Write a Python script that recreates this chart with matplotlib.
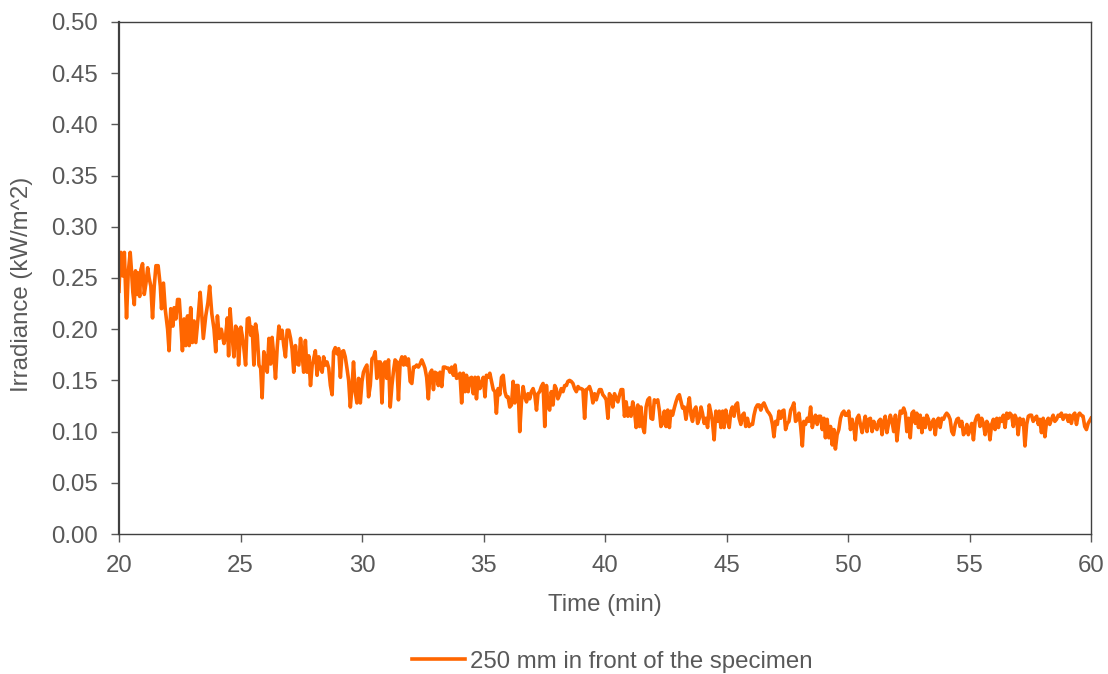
import matplotlib.pyplot as plt
from matplotlib.ticker import FormatStrFormatter

# irradiance log (kW/m^2) against time (min), in 5-minute blocks
t_20 = [20.00, 20.04, 20.08, 20.15, 20.22, 20.31, 20.38, 20.46, 20.52, 20.57,
        20.63, 20.68, 20.74, 20.79, 20.85, 20.90, 20.97, 21.04, 21.11, 21.18,
        21.24, 21.31, 21.38, 21.45, 21.52, 21.61, 21.70, 21.75, 21.83, 21.90,
        22.00, 22.06, 22.13, 22.22, 22.27, 22.34, 22.41, 22.48, 22.54, 22.61,
        22.68, 22.75, 22.82, 22.89, 22.95, 23.02, 23.09, 23.16, 23.25, 23.34,
        23.39, 23.47, 23.57, 23.66, 23.73, 23.82, 23.91, 23.98, 24.05, 24.13,
        24.21, 24.32, 24.39, 24.46, 24.51, 24.57, 24.64, 24.73, 24.80, 24.87,
        24.92, 25.01]
q_20 = [0.237, 0.265, 0.275, 0.252, 0.275, 0.211, 0.255, 0.275, 0.255, 0.236,
        0.224, 0.257, 0.234, 0.255, 0.232, 0.258, 0.264, 0.234, 0.245, 0.260,
        0.250, 0.242, 0.211, 0.242, 0.262, 0.262, 0.242, 0.220, 0.245, 0.220,
        0.200, 0.179, 0.220, 0.203, 0.221, 0.210, 0.229, 0.229, 0.207, 0.179,
        0.210, 0.184, 0.213, 0.184, 0.221, 0.187, 0.208, 0.187, 0.210, 0.236,
        0.220, 0.191, 0.213, 0.226, 0.242, 0.215, 0.200, 0.178, 0.213, 0.191,
        0.200, 0.186, 0.194, 0.211, 0.174, 0.220, 0.197, 0.173, 0.203, 0.200,
        0.165, 0.202]

t_25 = [25.07, 25.14, 25.21, 25.28, 25.35, 25.42, 25.48, 25.55, 25.62, 25.69,
        25.76, 25.83, 25.89, 25.96, 26.03, 26.10, 26.17, 26.24, 26.30, 26.37,
        26.44, 26.51, 26.58, 26.65, 26.71, 26.78, 26.85, 26.92, 26.99, 27.06,
        27.12, 27.19, 27.26, 27.33, 27.40, 27.47, 27.54, 27.60, 27.67, 27.74,
        27.81, 27.88, 27.95, 28.01, 28.08, 28.15, 28.22, 28.29, 28.36, 28.42,
        28.49, 28.56, 28.63, 28.70, 28.77, 28.83, 28.90, 28.97, 29.04, 29.11,
        29.18, 29.24, 29.31, 29.38, 29.45, 29.52, 29.59, 29.65, 29.72, 29.79,
        29.86, 29.93, 30.00, 30.06, 30.13]
q_25 = [0.194, 0.181, 0.165, 0.210, 0.211, 0.194, 0.202, 0.165, 0.205, 0.194,
        0.165, 0.162, 0.133, 0.178, 0.171, 0.158, 0.191, 0.166, 0.192, 0.174,
        0.152, 0.182, 0.203, 0.191, 0.199, 0.184, 0.173, 0.199, 0.199, 0.191,
        0.181, 0.158, 0.184, 0.166, 0.165, 0.191, 0.174, 0.158, 0.189, 0.158,
        0.174, 0.145, 0.165, 0.171, 0.179, 0.155, 0.173, 0.162, 0.158, 0.173,
        0.165, 0.168, 0.162, 0.145, 0.136, 0.178, 0.182, 0.176, 0.181, 0.153,
        0.178, 0.179, 0.173, 0.162, 0.150, 0.124, 0.144, 0.168, 0.139, 0.128,
        0.152, 0.128, 0.149, 0.158, 0.162]

t_30 = [30.20, 30.27, 30.34, 30.41, 30.48, 30.54, 30.61, 30.68, 30.75, 30.82,
        30.89, 30.95, 31.02, 31.09, 31.16, 31.23, 31.30, 31.36, 31.43, 31.50,
        31.57, 31.64, 31.71, 31.77, 31.84, 31.91, 31.98, 32.05, 32.12, 32.18,
        32.25, 32.32, 32.39, 32.46, 32.53, 32.59, 32.66, 32.73, 32.80, 32.87,
        32.94, 33.00, 33.07, 33.14, 33.21, 33.28, 33.35, 33.42, 33.48, 33.55,
        33.62, 33.69, 33.76, 33.83, 33.89, 33.96, 34.03, 34.10, 34.17, 34.24,
        34.30, 34.37, 34.44, 34.51, 34.58, 34.65, 34.71, 34.78, 34.85, 34.92,
        34.99, 35.06, 35.12, 35.19, 35.26]
q_30 = [0.165, 0.134, 0.145, 0.171, 0.173, 0.178, 0.152, 0.168, 0.168, 0.128,
        0.166, 0.168, 0.152, 0.170, 0.124, 0.145, 0.160, 0.170, 0.168, 0.131,
        0.168, 0.173, 0.165, 0.173, 0.165, 0.171, 0.149, 0.147, 0.163, 0.163,
        0.165, 0.163, 0.166, 0.170, 0.166, 0.162, 0.153, 0.132, 0.157, 0.160,
        0.141, 0.158, 0.157, 0.145, 0.158, 0.144, 0.163, 0.163, 0.162, 0.162,
        0.158, 0.163, 0.155, 0.165, 0.152, 0.153, 0.157, 0.128, 0.157, 0.139,
        0.155, 0.139, 0.152, 0.153, 0.137, 0.153, 0.132, 0.153, 0.142, 0.147,
        0.153, 0.134, 0.155, 0.153, 0.157]

t_35 = [35.33, 35.40, 35.47, 35.53, 35.60, 35.67, 35.74, 35.81, 35.88, 35.94,
        36.01, 36.08, 36.15, 36.22, 36.29, 36.35, 36.42, 36.49, 36.56, 36.63,
        36.70, 36.77, 36.83, 36.90, 36.97, 37.04, 37.11, 37.18, 37.24, 37.31,
        37.38, 37.45, 37.52, 37.59, 37.65, 37.72, 37.79, 37.86, 37.93, 37.99,
        38.06, 38.13, 38.20, 38.27, 38.34, 38.41, 38.47, 38.54, 38.61, 38.68,
        38.75, 38.82, 38.89, 38.95, 39.02, 39.09, 39.16, 39.23, 39.30, 39.36,
        39.43, 39.50, 39.57, 39.64, 39.71, 39.77, 39.84, 39.91, 39.98, 40.05,
        40.12, 40.18, 40.25, 40.32, 40.39]
q_35 = [0.149, 0.141, 0.139, 0.118, 0.142, 0.136, 0.153, 0.155, 0.139, 0.134,
        0.134, 0.124, 0.126, 0.149, 0.128, 0.145, 0.145, 0.100, 0.129, 0.144,
        0.134, 0.129, 0.137, 0.132, 0.139, 0.142, 0.136, 0.121, 0.137, 0.139,
        0.144, 0.147, 0.105, 0.145, 0.126, 0.121, 0.139, 0.126, 0.145, 0.142,
        0.132, 0.136, 0.142, 0.139, 0.145, 0.145, 0.149, 0.150, 0.149, 0.147,
        0.142, 0.139, 0.144, 0.142, 0.142, 0.141, 0.113, 0.141, 0.142, 0.144,
        0.139, 0.128, 0.137, 0.131, 0.137, 0.141, 0.141, 0.136, 0.134, 0.131,
        0.113, 0.137, 0.134, 0.124, 0.137]

t_40 = [40.46, 40.53, 40.60, 40.66, 40.73, 40.80, 40.87, 40.94, 41.01, 41.07,
        41.14, 41.21, 41.28, 41.35, 41.42, 41.48, 41.55, 41.62, 41.69, 41.76,
        41.83, 41.89, 41.96, 42.03, 42.10, 42.17, 42.24, 42.30, 42.37, 42.44,
        42.51, 42.58, 42.65, 42.71, 42.78, 42.85, 42.92, 42.99, 43.06, 43.13,
        43.19, 43.26, 43.33, 43.40, 43.47, 43.54, 43.60, 43.67, 43.74, 43.81,
        43.88, 43.95, 44.01, 44.08, 44.15, 44.22, 44.29, 44.36, 44.42, 44.49,
        44.56, 44.63, 44.70, 44.77, 44.84, 44.90, 44.97, 45.04, 45.11, 45.18,
        45.24, 45.31, 45.38, 45.45, 45.52]
q_40 = [0.133, 0.129, 0.136, 0.141, 0.141, 0.115, 0.129, 0.115, 0.123, 0.115,
        0.129, 0.121, 0.104, 0.126, 0.105, 0.124, 0.105, 0.099, 0.124, 0.131,
        0.133, 0.113, 0.112, 0.131, 0.129, 0.131, 0.120, 0.105, 0.108, 0.120,
        0.105, 0.121, 0.104, 0.120, 0.116, 0.123, 0.129, 0.134, 0.136, 0.129,
        0.123, 0.124, 0.112, 0.123, 0.133, 0.116, 0.110, 0.121, 0.124, 0.108,
        0.113, 0.124, 0.118, 0.108, 0.113, 0.104, 0.126, 0.118, 0.110, 0.092,
        0.120, 0.110, 0.120, 0.104, 0.120, 0.104, 0.121, 0.112, 0.104, 0.120,
        0.124, 0.115, 0.126, 0.128, 0.113]

t_45 = [45.59, 45.65, 45.72, 45.79, 45.86, 45.93, 46.00, 46.07, 46.13, 46.20,
        46.27, 46.34, 46.41, 46.48, 46.54, 46.61, 46.68, 46.75, 46.82, 46.89,
        46.95, 47.02, 47.09, 47.16, 47.23, 47.30, 47.36, 47.43, 47.50, 47.57,
        47.64, 47.71, 47.77, 47.84, 47.91, 47.98, 48.05, 48.12, 48.18, 48.25,
        48.32, 48.39, 48.46, 48.53, 48.60, 48.66, 48.73, 48.80, 48.87, 48.94,
        49.01, 49.07, 49.14, 49.21, 49.28, 49.35, 49.42, 49.48, 49.55, 49.62,
        49.69, 49.76, 49.83, 49.89, 49.96, 50.03, 50.10, 50.17, 50.24, 50.30,
        50.37, 50.44, 50.51, 50.58, 50.65]
q_45 = [0.107, 0.116, 0.118, 0.105, 0.113, 0.105, 0.107, 0.107, 0.116, 0.123,
        0.126, 0.126, 0.121, 0.126, 0.128, 0.124, 0.120, 0.118, 0.115, 0.107,
        0.095, 0.110, 0.107, 0.120, 0.113, 0.120, 0.121, 0.102, 0.108, 0.110,
        0.121, 0.124, 0.128, 0.110, 0.112, 0.118, 0.105, 0.086, 0.110, 0.107,
        0.113, 0.110, 0.124, 0.104, 0.112, 0.116, 0.107, 0.115, 0.115, 0.102,
        0.113, 0.094, 0.112, 0.094, 0.105, 0.087, 0.102, 0.083, 0.097, 0.102,
        0.113, 0.118, 0.120, 0.116, 0.116, 0.120, 0.102, 0.112, 0.104, 0.092,
        0.113, 0.116, 0.107, 0.099, 0.108]

t_50 = [50.71, 50.78, 50.85, 50.92, 50.99, 51.06, 51.12, 51.19, 51.26, 51.33,
        51.40, 51.47, 51.53, 51.60, 51.67, 51.74, 51.81, 51.88, 51.95, 52.01,
        52.08, 52.15, 52.22, 52.29, 52.36, 52.42, 52.49, 52.56, 52.63, 52.70,
        52.77, 52.83, 52.90, 52.97, 53.04, 53.11, 53.18, 53.24, 53.31, 53.38,
        53.45, 53.52, 53.59, 53.65, 53.72, 53.79, 53.86, 53.93, 54.00, 54.06,
        54.13, 54.20, 54.27, 54.34, 54.41, 54.48, 54.54, 54.61, 54.68, 54.75,
        54.82, 54.89, 54.95, 55.02, 55.09, 55.16, 55.23, 55.30, 55.36, 55.43,
        55.50, 55.57, 55.64, 55.71, 55.77]
q_50 = [0.115, 0.100, 0.112, 0.113, 0.100, 0.110, 0.105, 0.102, 0.110, 0.112,
        0.097, 0.110, 0.115, 0.099, 0.108, 0.116, 0.110, 0.100, 0.116, 0.091,
        0.107, 0.120, 0.118, 0.123, 0.118, 0.100, 0.113, 0.094, 0.118, 0.120,
        0.108, 0.118, 0.104, 0.116, 0.099, 0.113, 0.104, 0.116, 0.112, 0.102,
        0.108, 0.112, 0.097, 0.110, 0.113, 0.104, 0.113, 0.112, 0.116, 0.118,
        0.116, 0.112, 0.100, 0.097, 0.107, 0.112, 0.113, 0.105, 0.110, 0.097,
        0.100, 0.107, 0.097, 0.102, 0.108, 0.092, 0.110, 0.115, 0.116, 0.105,
        0.113, 0.108, 0.097, 0.110, 0.107]

t_55 = [55.84, 55.91, 55.98, 56.05, 56.12, 56.19, 56.25, 56.32, 56.39, 56.46,
        56.53, 56.59, 56.66, 56.73, 56.80, 56.87, 56.94, 57.00, 57.07, 57.14,
        57.21, 57.28, 57.35, 57.42, 57.48, 57.55, 57.62, 57.69, 57.76, 57.83,
        57.89, 57.96, 58.03, 58.10, 58.17, 58.24, 58.30, 58.37, 58.44, 58.51,
        58.58, 58.65, 58.71, 58.78, 58.85, 58.92, 58.99, 59.06, 59.12, 59.19,
        59.26, 59.33, 59.40, 59.47, 59.53, 59.60, 59.67, 59.74, 59.81, 59.88,
        60.00]
q_55 = [0.092, 0.107, 0.112, 0.102, 0.113, 0.104, 0.113, 0.110, 0.116, 0.104,
        0.118, 0.113, 0.118, 0.116, 0.105, 0.116, 0.112, 0.097, 0.113, 0.107,
        0.112, 0.086, 0.107, 0.115, 0.116, 0.116, 0.110, 0.113, 0.115, 0.107,
        0.112, 0.099, 0.113, 0.095, 0.110, 0.113, 0.107, 0.112, 0.116, 0.110,
        0.112, 0.116, 0.115, 0.118, 0.112, 0.116, 0.116, 0.110, 0.116, 0.108,
        0.116, 0.118, 0.107, 0.116, 0.118, 0.116, 0.115, 0.105, 0.102, 0.108,
        0.113]

time_min = t_20 + t_25 + t_30 + t_35 + t_40 + t_45 + t_50 + t_55
irradiance = q_20 + q_25 + q_30 + q_35 + q_40 + q_45 + q_50 + q_55

x_ticks = [20, 25, 30, 35, 40, 45, 50, 55, 60]
y_ticks = [0.00, 0.05, 0.10, 0.15, 0.20, 0.25, 0.30, 0.35, 0.40, 0.45, 0.50]

plt.rcParams['font.family'] = ['Liberation Sans', 'DejaVu Sans']
grey = '#595959'
fs = 17.3

fig = plt.figure(figsize=(11.08, 6.74), dpi=100)
ax = fig.add_axes([0.1074, 0.2077, 0.8773, 0.7597])

ax.plot(time_min, irradiance, color='#FF6600', lw=2.6,
        label='250 mm in front of the specimen')

ax.set_xlim(20, 60)
ax.set_ylim(0, 0.5)
ax.set_xticks(x_ticks)
ax.set_yticks(y_ticks)
ax.yaxis.set_major_formatter(FormatStrFormatter('%.2f'))
ax.tick_params(direction='out', length=6, width=1, color=grey,
               labelcolor=grey, labelsize=fs, pad=9)

for side in ['top', 'right', 'bottom']:
    ax.spines[side].set_color('#404040')
    ax.spines[side].set_linewidth(1.0)
ax.spines['left'].set_color('#404040')
ax.spines['left'].set_linewidth(1.6)

ax.set_xlabel('Time (min)', fontsize=fs, color=grey)
ax.set_ylabel('Irradiance (kW/m^2)', fontsize=fs, color=grey)
ax.xaxis.set_label_coords(0.5, -0.118)
ax.yaxis.set_label_coords(-0.0885, 0.488)

fig.legend(loc='center', bbox_to_anchor=(0.5525, 0.018), frameon=False,
           fontsize=fs, labelcolor=grey, handlelength=2.2,
           handletextpad=0.2)

fig.savefig('out.png', dpi=100)
